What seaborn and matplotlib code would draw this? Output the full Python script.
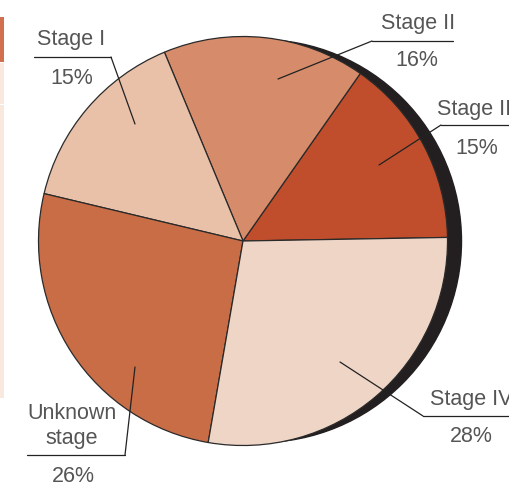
import matplotlib.pyplot as plt
import matplotlib.patches as mpatches
import seaborn as sns

# data (counter-clockwise from ~1 deg)
stages = ['Stage III', 'Stage II', 'Stage I', 'Unknown\nstage', 'Stage IV']
shares = [15, 16, 15, 26, 28]
pct_labels = ['15%', '16%', '15%', '26%', '28%']
colors = ['#C04E2C', '#D68B6A', '#E9C1A9', '#C96D47', '#EFD5C6']

sns.set_theme(style='white')
plt.rcParams['font.family'] = ['Liberation Sans', 'DejaVu Sans']

W, H = 509, 484
fig = plt.figure(figsize=(W / 100, H / 100), dpi=100)
ax = fig.add_axes([0, 0, 1, 1])


def px(x, y):
    # pixel coords (top-left origin) -> data coords
    return (x, H - y)


cx, cy = px(243, 241)
R = 204.5

# dark shadow behind the right side of the pie
ax.add_patch(mpatches.Circle((cx + 17, cy), R - 3, color='#231F20', zorder=0))

ax.pie(shares, colors=colors, startangle=1, counterclock=True, center=(cx, cy), radius=R,
       wedgeprops=dict(edgecolor='#2A2A2A', linewidth=0.9), frame=False)
ax.set_xlim(0, W)
ax.set_ylim(0, H)
ax.set_aspect('equal')
ax.axis('off')

# leftover strips at the left edge
for y0, y1, c in [(17, 62, '#D0704F'), (63, 104, '#F8E8DE'), (105, 398, '#F8E8DE')]:
    ax.add_patch(mpatches.Rectangle(px(0, y1), 4, y1 - y0, color=c, lw=0, zorder=5))

txt = dict(color='#555555', fontsize=15.5, ha='center', va='center')
line = dict(color='#222222', lw=0.9, zorder=6)

# label layout: name pos, pct pos, underline x-range + y, leader end inside slice
layout = {
    'Stage III': ((437, 110), (477, 148), (441, 515, 125), (379, 165), 'left'),
    'Stage II': ((418, 23), (417, 61), (372, 453, 41), (278, 79), 'center'),
    'Stage I': ((71, 40), (72, 78), (34, 111, 57), (135, 124), 'center'),
    'Unknown\nstage': ((72, 426), (73, 476), (27, 125, 455), (135, 367), 'center'),
    'Stage IV': ((430, 399), (471, 437), (423, 515, 416), (340, 362), 'left'),
}

for name, pct in zip(stages, pct_labels):
    (tx, ty), (pxx, pyy), (ux0, ux1, uy), (ex, ey), ha = layout[name]
    kw = dict(txt)
    kw['ha'] = ha
    ax.text(*px(tx, ty), name, linespacing=1.3, **kw)
    ax.text(*px(pxx, pyy), pct, **txt)
    ax.plot([px(ux0, uy)[0], px(ux1, uy)[0]], [px(ux0, uy)[1]] * 2, **line)
    corner = ux1 if name in ('Stage I', 'Unknown\nstage') else ux0
    ax.plot([corner, ex], [H - uy, H - ey], **line)

plt.savefig('out.png', dpi=100)
